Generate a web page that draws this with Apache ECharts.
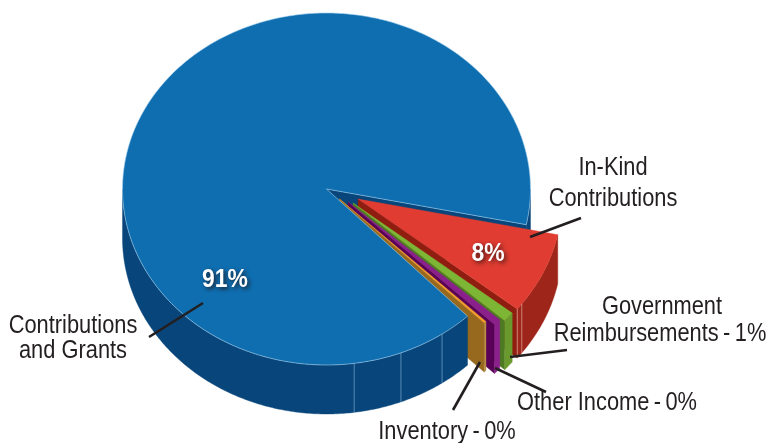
<!DOCTYPE html>
<html><head><meta charset="utf-8">
<style>html,body{margin:0;padding:0;background:#fff}#c{width:769px;height:443px}</style>
<script src="https://cdn.jsdelivr.net/npm/echarts@6/dist/echarts.min.js"></script>
</head><body><div id="c"></div>
<script>
// Data, in drawing order round the pie (clockwise from the right)
const categories = ['In-Kind Contributions','Government Reimbursements','Other Income','Inventory','Contributions and Grants'];
const values = [7.5, 0.9, 0.6, 0.2, 90.4];
// Label texts
const labelLines = [
  ['In-Kind',613,168],['Contributions',613,199],
  ['Government',662,307],['Reimbursements\u2009-\u20091%',660,334],
  ['Other Income\u2009-\u20090%',607,403],
  ['Inventory\u2009-\u20090%',447,432],
  ['Contributions',73,326],['and Grants',73,351]
];
const pctLabels = [['8%',488,254],['91%',225,280]];
const leaders = [
  [[530,237],[581,218]],
  [[510,357],[567,350]],
  [[495,368],[546,392]],
  [[480,362],[453,410]],
  [[149,337],[203,303]]
];
// Styling
const topColors = ['#e03c31','#7db535','#8b1f8b','#f2a02c','#0f6eb0'];
const radialColors = ['#8f1d10','#4f7a24','#590057','#96691e','#08457a'];
const outerColors = ['#9e2519','#6a9a2e','#8b1f8b','#b98d45','#08457a'];
const offsets = [[31.5,10],[26.5,14],[21.5,13],[13,10],[0,0]];
const gapsAfterDeg = [0,0,0,1.44,0];
const seams = [[0,36.6],[4,82.2],[4,68.6],[4,55.5]];
const startDeg = 11.7, cx = 326.5, cy = 189, rx = 204, ry = 176, depth = 49;

// Slice angles from the values
let acc = startDeg;
const angles = values.map((v,i)=>{const a=acc,b=a+v*3.6; acc=b+gapsAfterDeg[i]; return [a,b];});
const rad = d=>d*Math.PI/180;
function pt(i,deg,dz){
  const o=offsets[i];
  return [cx+o[0]+rx*Math.cos(rad(deg)), cy+o[1]+ry*Math.sin(rad(deg))+(dz||0)];
}
function arc(i,a,b,dz){
  const n=Math.max(2,Math.ceil((b-a)*1.5)),p=[];
  for(let k=0;k<=n;k++)p.push(pt(i,a+(b-a)*k/n,dz));
  return p;
}
function topPoly(i){
  const o=offsets[i];
  return [[cx+o[0],cy+o[1]]].concat(arc(i,angles[i][0],angles[i][1]));
}
function radialWall(i,deg){
  const o=offsets[i],c=[cx+o[0],cy+o[1]],e=pt(i,deg);
  return [c,e,[e[0],e[1]+depth],[c[0],c[1]+depth]];
}
function outerWall(i,a,b){
  return arc(i,a,b).concat(arc(i,a,b,depth).reverse());
}
const parts=[];
const poly=(points,fill,stroke,lw)=>parts.push({type:'polygon',points,fill,stroke,lw});
const BLUE=4;
const blueEnd=angles[BLUE][1]-360;
// Blue parts behind the exploded slices
poly(radialWall(BLUE,blueEnd),radialColors[BLUE]);
poly(outerWall(BLUE,0,blueEnd),outerColors[BLUE]);
// Exploded slices
for(let i=0;i<4;i++){
  const [a,b]=angles[i];
  poly(radialWall(i,b),radialColors[i]);
  poly(outerWall(i,a,b),outerColors[i]);
  poly(topPoly(i),topColors[i]);
}
// Blue parts in front
poly(outerWall(BLUE,angles[BLUE][0],180),outerColors[BLUE]);
seams.forEach(([i,d])=>{
  const p=pt(i,d);
  parts.push({type:'line',a:p,b:[p[0],p[1]+depth],stroke:i===BLUE?'rgba(150,195,230,.55)':'rgba(240,190,180,.6)',lw:1});
});
poly(topPoly(BLUE),topColors[BLUE],'rgba(165,210,240,.75)',0.8);
// Red slice edge highlight at its front corner
{const p=pt(0,angles[0][1]);parts.push({type:'line',a:p,b:[p[0],p[1]+depth],stroke:'rgba(240,190,180,.6)',lw:1});}
// Leader lines
leaders.forEach(([a,b])=>parts.push({type:'line',a,b,stroke:'#231f20',lw:2.6}));

const chart=echarts.init(document.getElementById('c'),null,{renderer:'canvas'});
const textFont='"Liberation Sans",sans-serif';
chart.setOption({
  animation:false,
  backgroundColor:'#fff',
  series:[{
    type:'custom',
    coordinateSystem:'none',
    silent:true,
    clip:false,
    data:parts.map((_,k)=>[k]),
    renderItem(params,api){
      const p=parts[api.value(0)];
      if(p.type==='polygon')return{
        type:'polygon',shape:{points:p.points},
        style:{fill:p.fill,stroke:p.stroke||p.fill,lineWidth:p.stroke?p.lw:0.4}
      };
      return{type:'line',shape:{x1:p.a[0],y1:p.a[1],x2:p.b[0],y2:p.b[1]},
        style:{stroke:p.stroke,lineWidth:p.lw,fill:null}};
    }
  }],
  graphic:{elements:[
    ...labelLines.map(([t,x,y])=>({type:'text',x,y,z:10,silent:true,scaleX:0.84,
      style:{text:t,fill:'#231f20',font:'26px '+textFont,align:'center',verticalAlign:'middle'}})),
    ...pctLabels.map(([t,x,y])=>({type:'text',x,y,z:10,silent:true,scaleX:0.88,
      style:{text:t,fill:'#fff',font:'bold 26px '+textFont,align:'center',verticalAlign:'middle',
        textShadowColor:'rgba(30,15,15,.8)',textShadowBlur:4,textShadowOffsetX:2,textShadowOffsetY:2}}))
  ]}
});
</script></body></html>
